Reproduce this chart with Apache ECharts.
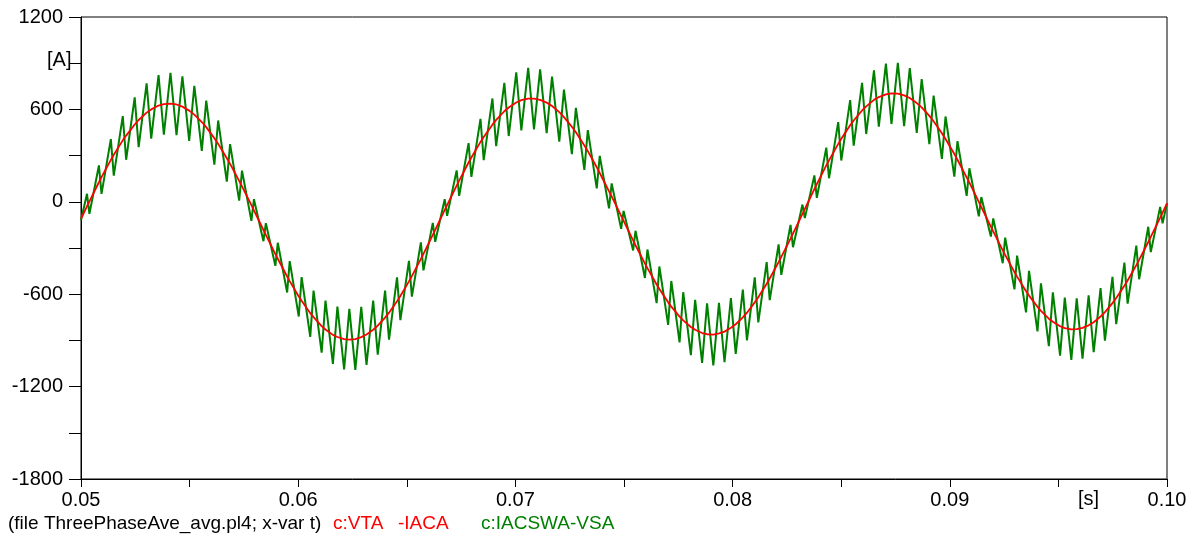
<!DOCTYPE html>
<html>
<head>
<meta charset="utf-8">
<script src="https://cdn.jsdelivr.net/npm/echarts@6/dist/echarts.min.js"></script>
<style>
html,body{margin:0;padding:0;background:#fff;}
#chart{width:1199px;height:544px;}
</style>
</head>
<body>
<div id="chart"></div>
<script>
// time samples [s]
const t = [0.05,
0.050276,0.050388,0.050825,0.050945,0.051374,0.051509,0.051923,0.052079,0.052472,0.052654,
0.053021,0.053233,0.053570,0.053815,0.054119,0.054398,0.054668,0.054981,0.055217,0.055562,
0.055766,0.056140,0.056315,0.056714,0.056864,0.057282,0.057413,0.057845,0.057962,0.058400,
0.058511,0.058949,0.059060,0.059491,0.059609,0.060026,0.060158,0.060555,0.060707,0.061079,
0.061256,0.061598,0.061805,0.062115,0.062354,0.062630,0.062903,0.063145,0.063452,0.063662,
0.064001,0.064181,0.064550,0.064704,0.065099,0.065233,0.065648,0.065767,0.066197,0.066308,
0.066746,0.066856,0.067295,0.067411,0.067844,0.067973,0.068393,0.068541,0.068942,0.069114,
0.069491,0.069692,0.070040,0.070273,0.070589,0.070856,0.071138,0.071439,0.071687,0.072021,
0.072236,0.072600,0.072785,0.073175,0.073334,0.073746,0.073883,0.074311,0.074432,0.074869,
0.074981,0.075420,0.075530,0.075964,0.076079,0.076502,0.076628,0.077033,0.077177,0.077558,
0.077726,0.078079,0.078275,0.078597,0.078824,0.079112,0.079373,0.079627,0.079922,0.080143,
0.080471,0.080661,0.081020,0.081183,0.081569,0.081709,0.082118,0.082242,0.082667,0.082780,
0.083216,0.083326,0.083765,0.083878,0.084314,0.084438,0.084863,0.085004,0.085412,0.085575,
0.085961,0.086151,0.086510,0.086731,0.087059,0.087314,0.087608,0.087897,0.088157,0.088479,
0.088706,0.089059,0.089255,0.089636,0.089804,0.090209,0.090353,0.090776,0.090902,0.091336,
0.091451,0.091890,0.092000,0.092437,0.092549,0.092977,0.093098,0.093510,0.093647,0.094037,
0.094196,0.094560,0.094745,0.095078,0.095294,0.095595,0.095843,0.096110,0.096392,0.096625,
0.096941,0.097142,0.097490,0.097662,0.098039,0.098187,0.098588,0.098717,0.099137,0.099253,
0.099686,0.099796,
0.1];

// c:VTA -IACA [A]
const vtaMinusIaca = [-110,
-29,3,127,160,272,305,399,430,502,531,579,600,625,634,638,632,618,592,566,518,
485,413,376,283,246,136,100,-22,-56,-183,-215,-340,-370,-485,-515,-615,-643,-723,-749,-807,
-829,-864,-878,-892,-895,-892,-879,-862,-831,-804,-752,-720,-646,-612,-517,-483,-371,-338,-215,-182,
-53,-21,105,138,255,288,389,421,501,532,588,612,645,660,670,670,662,644,622,582,
550,487,451,366,329,224,187,68,35,-92,-124,-251,-282,-401,-431,-537,-566,-653,-681,-746,
-770,-813,-831,-852,-860,-862,-855,-843,-818,-795,-750,-720,-653,-620,-532,-498,-392,-358,-239,-206,
-78,-46,82,115,236,269,376,409,497,528,593,620,662,680,698,704,703,691,674,641,
613,558,523,445,408,310,273,159,124,-1,-34,-161,-192,-315,-345,-457,-486,-581,-609,-682,
-708,-759,-779,-808,-820,-828,-827,-819,-802,-782,-745,-716,-658,-625,-545,-511,-411,-377,-261,-228,
-103,-70,
-10];

// c:IACSWA-VSA [A]
const iacswaMinusVsa = [-120,
52,-78,236,51,407,170,556,273,678,355,769,410,823,436,838,432,814,396,753,331,
657,241,528,131,374,8,202,-124,17,-256,-139,-416,-266,-589,-385,-745,-489,-877,-576,-980,
-641,-1052,-681,-1089,-695,-1092,-682,-1059,-642,-993,-577,-895,-490,-768,-384,-616,-264,-445,-137,-260,
17,-91,204,39,381,162,539,271,671,362,773,427,841,464,870,470,860,446,813,391,
728,309,610,207,466,87,298,-43,119,-176,-59,-316,-188,-495,-310,-658,-420,-799,-514,-913,
-587,-996,-637,-1046,-660,-1062,-656,-1042,-626,-987,-570,-900,-490,-783,-391,-639,-276,-474,-150,-295,
-18,-106,171,26,352,153,517,268,660,365,773,440,854,488,897,505,903,491,868,447,
796,375,689,279,554,164,394,38,218,-95,31,-226,-108,-399,-233,-569,-349,-718,-449,-842,
-530,-937,-588,-999,-622,-1026,-627,-1019,-607,-977,-560,-901,-488,-795,-395,-661,-285,-503,-162,-327,
-33,-140,
-10];

const yTicks = {min: -1800, max: 1200, step: 300, labelStep: 600};
const xTicks = {min: 0.05, max: 0.10, step: 0.005, labelStep: 0.01};
const seriesNames = ['c:VTA   -IACA', 'c:IACSWA-VSA'];
const fileNote = '(file ThreePhaseAve_avg.pl4; x-var t)';

const RED = '#ff0000', GREEN = '#008000';
const FONT = "'Liberation Sans', Arial, sans-serif";

const redData = t.map((x, i) => [x, vtaMinusIaca[i]]);
const greenData = t.map((x, i) => [x, iacswaMinusVsa[i]]);

const chart = echarts.init(document.getElementById('chart'), null, {renderer: 'canvas'});
chart.setOption({
  animation: false,
  backgroundColor: '#fff',
  grid: {left: 81, right: 32, top: 17, bottom: 65, show: true, borderColor: '#000', borderWidth: 1, backgroundColor: 'transparent'},
  xAxis: {
    type: 'value', min: xTicks.min, max: xTicks.max, interval: xTicks.step,
    axisLine: {show: true, onZero: false, lineStyle: {color: '#000', width: 1}},
    axisTick: {show: true, length: 8, inside: false, lineStyle: {color: '#000', width: 1}},
    splitLine: {show: false},
    axisLabel: {
      show: true, margin: 11, fontSize: 20, color: '#000', fontFamily: FONT,
      showMinLabel: true, showMaxLabel: true,
      formatter: function (v) {
        const k = v / xTicks.labelStep;
        if (Math.abs(k - Math.round(k)) < 1e-6) return v.toFixed(2);
        return '';
      }
    }
  },
  yAxis: {
    type: 'value', min: yTicks.min, max: yTicks.max, interval: yTicks.step,
    axisLine: {show: true, onZero: false, lineStyle: {color: '#000', width: 1}},
    axisTick: {show: true, length: 12, inside: false, lineStyle: {color: '#000', width: 1}},
    splitLine: {show: false},
    axisLabel: {
      show: true, margin: 18, fontSize: 20, color: '#000', fontFamily: FONT,
      showMinLabel: true, showMaxLabel: true,
      formatter: function (v) {
        return (Math.round(v) % yTicks.labelStep === 0) ? String(Math.round(v)) : '';
      }
    }
  },
  series: [
    {name: seriesNames[1], type: 'line', data: greenData, showSymbol: false, smooth: false,
     lineStyle: {color: GREEN, width: 2}, itemStyle: {color: GREEN}, z: 2, clip: true},
    {name: seriesNames[0], type: 'line', data: redData, showSymbol: false, smooth: false,
     lineStyle: {color: RED, width: 1.8}, itemStyle: {color: RED}, z: 3, clip: true}
  ],
  graphic: [
    {type: 'text', left: 47, top: 50, style: {text: '[A]', font: "20px " + FONT, fill: '#000'}},
    {type: 'text', left: 1078, top: 489, style: {text: '[s]', font: "20px " + FONT, fill: '#000'}},
    {type: 'text', left: 8, top: 514, style: {text: fileNote, font: "19px " + FONT, fill: '#000'}},
    {type: 'text', left: 333, top: 514, style: {text: 'c:VTA', font: "19px " + FONT, fill: RED}},
    {type: 'text', left: 398, top: 514, style: {text: '-IACA', font: "19px " + FONT, fill: RED}},
    {type: 'text', left: 481, top: 514, style: {text: seriesNames[1], font: "19px " + FONT, fill: GREEN}}
  ]
});
</script>
</body>
</html>
